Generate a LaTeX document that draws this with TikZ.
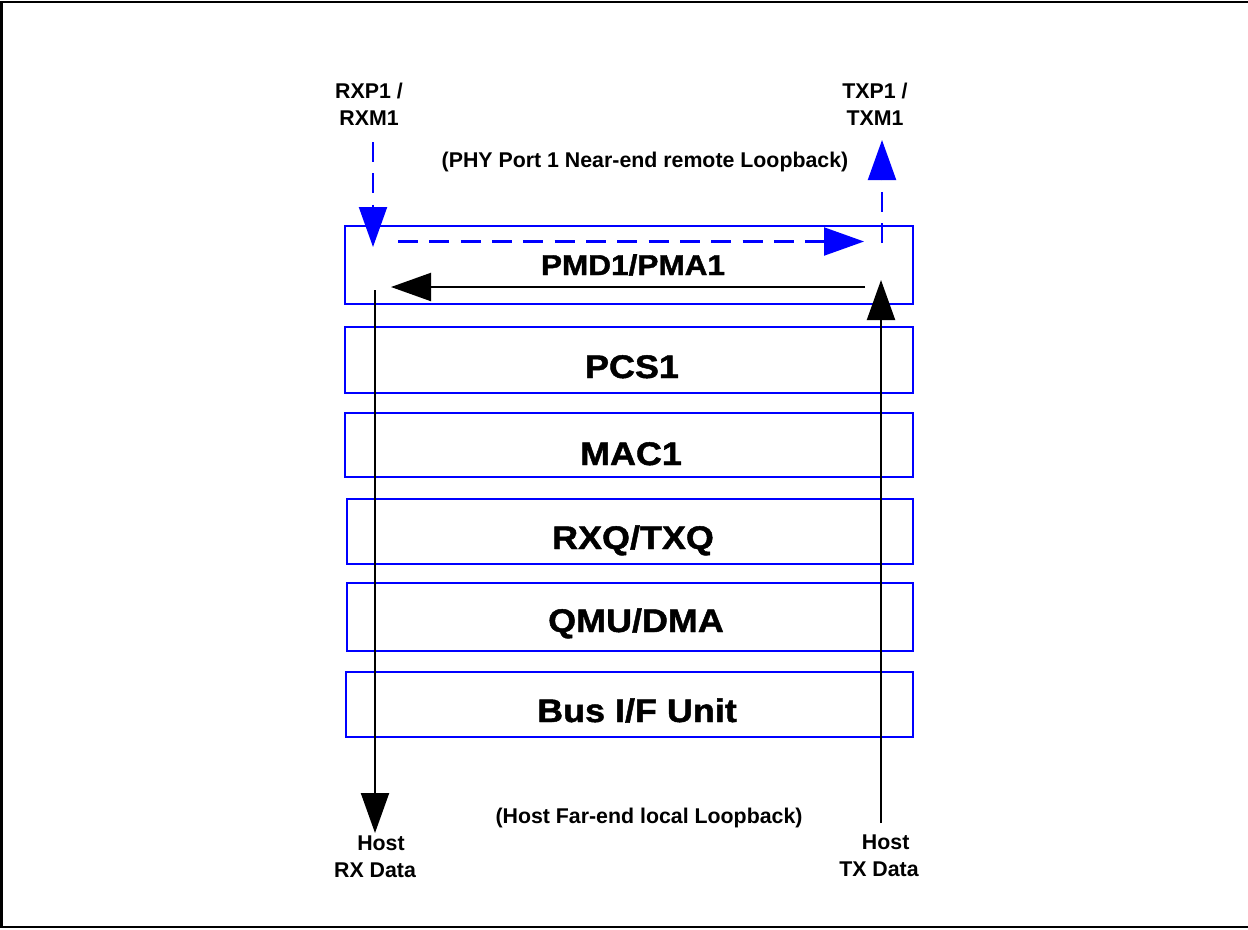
\documentclass[tikz,border=0pt]{standalone}
\usepackage{fontspec}
\setmainfont{Liberation Sans}
\newfontfamily\smallbold{Liberation Sans Bold}
\newfontfamily\layerfont[FakeStretch=1.1,FakeBold=1.4]{Liberation Sans Bold}
\usetikzlibrary{arrows.meta}
\definecolor{layerblue}{RGB}{0,0,255}
\tikzset{
  x=0.75pt, y=-0.75pt,
  layerbox/.style={draw=layerblue, line width=1.6pt*0.75, rectangle, inner sep=0pt},
  layerlabel/.style={anchor=base, inner sep=0pt, font=\layerfont\fontsize{24.5}{28}\selectfont},
  smalllabel/.style={align=center, inner sep=0pt, font=\smallbold\fontsize{16}{20}\selectfont},
  blackflow/.style={draw=black, line width=1.6pt, -{Triangle[length=30pt,width=21pt]}},
  blueflow/.style={draw=layerblue, line width=1.6pt, dash pattern=on 15pt off 8.5pt, -{Triangle[length=30pt,width=21pt]}},
  frameline/.style={draw=black, line width=1.9pt}
}
\begin{document}
\begin{tikzpicture}
\useasboundingbox (0,0) rectangle (1248,929);
\draw[frameline] (1248,2) -- (1.5,2) -- (1.5,927) -- (1248,927);

% layer boxes
\node[layerbox, minimum width=568*0.75pt, minimum height=78*0.75pt] (pmd) at (629,265) {};
\node[layerbox, minimum width=568*0.75pt, minimum height=66*0.75pt] (pcs) at (629,360) {};
\node[layerbox, minimum width=568*0.75pt, minimum height=64*0.75pt] (mac) at (629,445) {};
\node[layerbox, minimum width=566*0.75pt, minimum height=65*0.75pt] (rxq) at (630,531.5) {};
\node[layerbox, minimum width=566*0.75pt, minimum height=68*0.75pt] (qmu) at (630,617) {};
\node[layerbox, minimum width=567*0.75pt, minimum height=65*0.75pt] (bus) at (629.5,704.5) {};

% layer labels
\node[layerlabel, font=\layerfont\fontsize{21.5}{26}\selectfont] (pmdL) at (633,275) {PMD1/PMA1};
\node[layerlabel] (pcsL) at (632,378) {PCS1};
\node[layerlabel] (macL) at (631,465) {MAC1};
\node[layerlabel] (rxqL) at (633,549) {RXQ/TXQ};
\node[layerlabel] (qmuL) at (636,632) {QMU/DMA};
\node[layerlabel] (busL) at (637,722) {Bus I/F Unit};

% small labels
\node[smalllabel] (rxp) at (369,104) {RXP1 /\\RXM1};
\node[smalllabel] (txp) at (875,104) {TXP1 /\\TXM1};
\node[smalllabel] (phy) at (645,162) {(PHY Port 1 Near-end remote Loopback)};
\node[smalllabel] (host) at (649,818) {(Host Far-end local Loopback)};
\node[smalllabel] (hostrx) at (375,857) {\hspace*{9pt}Host\\RX Data};
\node[smalllabel] (hosttx) at (879,856) {\hspace*{10pt}Host\\TX Data};

% connector end points
\coordinate (rxTop) at (375,290);
\coordinate (rxEnd) at (375,833);
\coordinate (txStart) at (881,823);
\coordinate (txEnd) at (881,280);
\coordinate (loopStart) at (865,287);
\coordinate (loopEnd) at (391,287);
\coordinate (bRxStart) at (373,142);
\coordinate (bRxEnd) at (373,247);
\coordinate (bLoopStart) at (398,241.5);
\coordinate (bLoopEnd) at (864,241.5);
\coordinate (bTxStart) at (882,243);
\coordinate (bTxEnd) at (882,140);

% black data paths
\draw[blackflow] (rxTop) -- (rxEnd);
\draw[blackflow] (txStart) -- (txEnd);
\draw[blackflow] (loopStart) -- (loopEnd);

% blue dashed loopback
\draw[blueflow] (bRxStart) -- (bRxEnd);
\draw[blueflow] (bLoopStart) -- (bLoopEnd);
\draw[blueflow] (bTxStart) -- (bTxEnd);
\end{tikzpicture}
\end{document}
